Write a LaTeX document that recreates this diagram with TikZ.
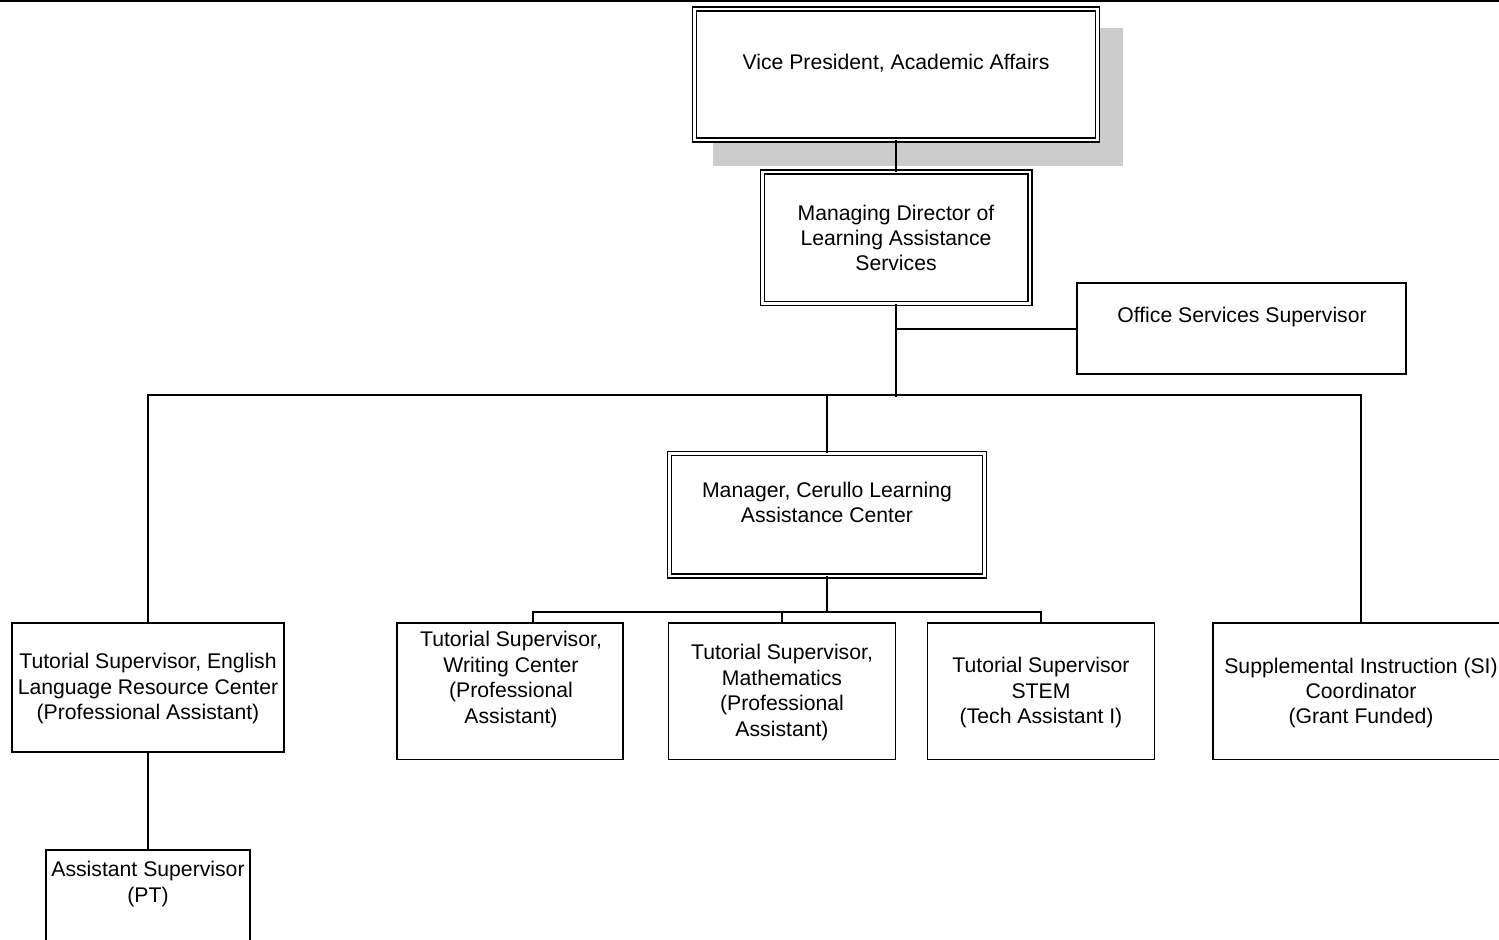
\documentclass[tikz,border=0pt]{standalone}
\usepackage{fontspec}
\setmainfont{Liberation Sans}
\tikzset{
  sbox/.style={draw, line width=0.9pt, fill=white, inner sep=0pt, outer sep=0pt},
  dbox/.style={draw, double, double distance=1.25pt, line width=0.75pt, fill=white, inner sep=0pt, outer sep=0pt},
  txt/.style={align=center, inner sep=0pt, font=\fontsize{10.6pt}{12.7pt}\selectfont},
  conn/.style={line width=0.9pt}
}
\begin{document}
\begin{tikzpicture}[x=0.5pt,y=-0.5pt]
\useasboundingbox (0,0) rectangle (1499,939);
\clip (0,0) rectangle (1499,939);
% top rule
\draw[line width=1pt] (0,1) -- (1499,1);
% shadow
\fill[black!20] (713,28) rectangle (1123,166);
% boxes
\node[dbox, minimum width=201.5pt, minimum height=65.5pt] (vp) at (896,74.5) {};
\node[dbox, minimum width=133.75pt, minimum height=65.75pt] (md) at (896,237.75) {};
\node[sbox, minimum width=164.5pt, minimum height=45.35pt] (off) at (1241.5,328.65) {};
\node[dbox, minimum width=157.5pt, minimum height=61.35pt] (mgr) at (827,514.6) {};
\node[sbox, minimum width=136.15pt, minimum height=64.35pt] (elrc) at (148,687.65) {};
\node[sbox, minimum width=113pt, minimum height=68.1pt] (wri) at (510,691.4) {};
\node[sbox, minimum width=113.5pt, minimum height=68.1pt] (math) at (782,691.4) {};
\node[sbox, minimum width=113.5pt, minimum height=68.1pt] (stem) at (1041,691.4) {};
\node[sbox, minimum width=148.15pt, minimum height=68.1pt] (si) at (1361,691.4) {};
\node[sbox, minimum width=102.15pt, minimum height=79.85pt] (asst) at (148,930.15) {};
% texts
\node[txt] (vp-t) at (896,63) {Vice President, Academic Affairs};
\node[txt] (md-t) at (896,238) {Managing Director of\\Learning Assistance\\Services};
\node[txt] (off-t) at (1242,317) {Office Services Supervisor};
\node[txt] (mgr-t) at (827,502.5) {Manager, Cerullo Learning\\Assistance Center};
\node[txt] (elrc-t) at (148,688.5) {Tutorial Supervisor, English\\Language Resource Center\\(Professional Assistant)};
\node[txt] (wri-t) at (511,679.5) {Tutorial Supervisor,\\Writing Center\\(Professional\\Assistant)};
\node[txt] (math-t) at (782,692.5) {Tutorial Supervisor,\\Mathematics\\(Professional\\Assistant)};
\node[txt] (stem-t) at (1041,692.5) {Tutorial Supervisor\\STEM\\(Tech Assistant I)};
\node[txt] (si-t) at (1361,693) {Supplemental Instruction (SI)\\Coordinator\\(Grant Funded)};
\node[txt] (asst-t) at (148,884) {Assistant Supervisor\\(PT)};
% bus points
\coordinate (bus) at (896,395);
\coordinate (bus2) at (827,612);
\coordinate (wdrop) at (533,623);
% connectors
\draw[conn] (vp) -- (md);
\draw[conn] (md.south) -- ([yshift=-1pt]bus);
\draw[conn] (md.south |- off.west) -- (off.west);
\draw[conn] (elrc.north) -- (elrc.north |- bus) -- (si.north |- bus) -- (si.north);
\draw[conn] (mgr.north) -- (mgr.north |- bus);
\draw[conn] (mgr.south) -- (bus2);
\draw[conn] (wdrop) |- (bus2) -| (stem.north);
\draw[conn] (math.north) -- (math.north |- bus2);
\draw[conn] (elrc.south) -- (asst.north);
\end{tikzpicture}
\end{document}
